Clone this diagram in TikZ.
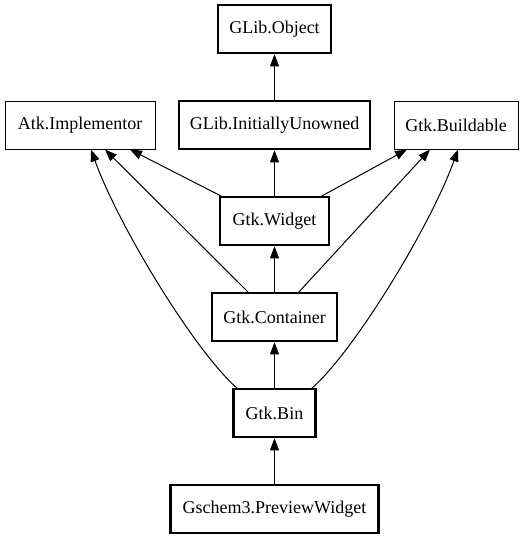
\documentclass[tikz,border=0pt]{standalone}
\usepackage{fontspec}
\setmainfont{Liberation Serif}
\usetikzlibrary{arrows.meta}
\begin{document}
\begin{tikzpicture}[x=1pt,y=-1pt,
  box/.style={draw,rectangle,inner sep=0pt,minimum height=48pt,font=\fontsize{18}{20}\selectfont,line width=1pt},
  thick box/.style={box,line width=2.5pt},
  edge/.style={line width=1pt,-{Triangle[length=12pt,width=9pt]}}]
\useasboundingbox (0,0) rectangle (523,539);
\node[thick box,minimum width=113pt] (obj) at (274.5,29) {GLib.Object};
\node[box,minimum width=150pt] (atk) at (80,125) {Atk.Implementor};
\node[thick box,minimum width=191pt] (iu) at (274.5,125) {GLib.InitiallyUnowned};
\node[box,minimum width=124pt] (bld) at (456,125) {Gtk.Buildable};
\node[thick box,minimum width=109pt] (wid) at (274.5,221) {Gtk.Widget};
\node[thick box,minimum width=125pt] (con) at (274.5,317) {Gtk.Container};
\node[thick box,minimum width=82pt] (bin) at (274.5,413) {Gtk.Bin};
\node[thick box,minimum width=208pt] (gs) at (274.5,509) {Gschem3.PreviewWidget};
\draw[edge] (iu) -- (obj);
\draw[edge] (wid) -- (iu);
\draw[edge] (con) -- (wid);
\draw[edge] (bin) -- (con);
\draw[edge] (gs) -- (bin);
\coordinate (wa) at (223,197);
\coordinate (wb) at (320,197);
\draw[edge] (wa) -- (atk.south -| 130,0);
\draw[edge] (wb) -- (bld.south -| 407,0);
\coordinate (ca) at (249,293);
\coordinate (cb) at (298,293);
\draw[edge] (ca) -- (atk.south -| 105,0);
\draw[edge] (cb) -- (bld.south -| 430,0);
\coordinate (ba) at (238,389);
\coordinate (bb) at (311,389);
\draw[edge] (ba) .. controls (195,352) and (118,225) .. (atk.south -| 91,0);
\draw[edge] (bb) .. controls (354,352) and (431,225) .. (bld.south -| 458,0);
\end{tikzpicture}
\end{document}
